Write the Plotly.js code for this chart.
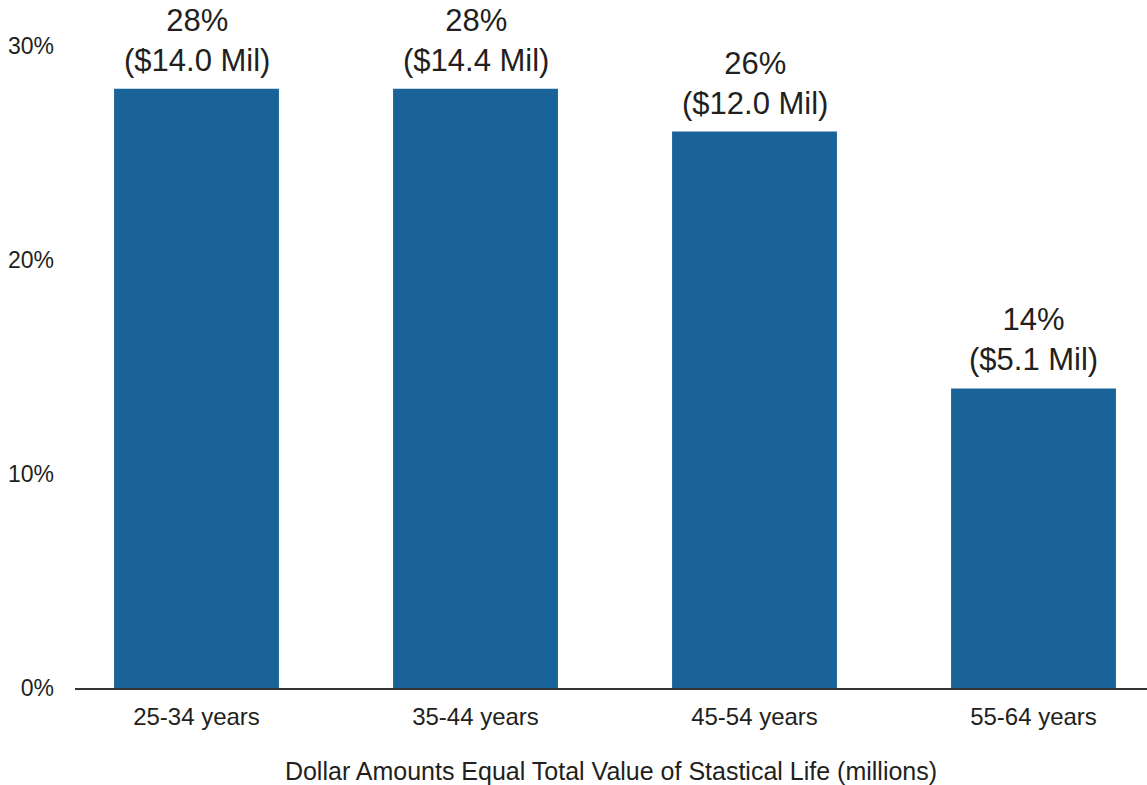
<!DOCTYPE html>
<html>
<head>
<meta charset="utf-8">
<script src="https://cdn.plot.ly/plotly-3.0.1.min.js"></script>
<style>html,body{margin:0;padding:0;background:#fff;}#chart{width:1147px;height:785px;}</style>
</head>
<body>
<div id="chart"></div>
<script>
const categories = ["25-34 years", "35-44 years", "45-54 years", "55-64 years"];
const percentValues = [28, 28, 26, 14];
const dollarMillions = [14.0, 14.4, 12.0, 5.1];
const yTickValues = [0, 10, 20, 30];

const FONT = "Liberation Sans, Arial, Helvetica, sans-serif";
const TEXT = "#231f20";

const trace = {
  type: "bar",
  x: categories,
  y: percentValues,
  marker: {color: "#1a6399"},
  hoverinfo: "none"
};

const annotations = categories.map((c, i) => ({
  x: c,
  y: percentValues[i],
  xref: "x",
  yref: "y",
  text: percentValues[i] + "%<br>($" + dollarMillions[i].toFixed(1) + " Mil)",
  showarrow: false,
  yanchor: "bottom",
  yshift: 9,
  font: {family: FONT, size: 31, color: TEXT}
}));

const layout = {
  width: 1147,
  height: 785,
  margin: {l: 75, r: 0, t: 46, b: 97},
  paper_bgcolor: "#ffffff",
  plot_bgcolor: "#ffffff",
  bargap: 0.409,
  showlegend: false,
  font: {family: FONT, color: TEXT},
  xaxis: {
    type: "category",
    range: [-0.4355, 3.4068],
    showline: true,
    linecolor: "#333333",
    linewidth: 2,
    ticks: "",
    showgrid: false,
    zeroline: false,
    tickfont: {family: FONT, size: 24, color: TEXT},
    ticklabelstandoff: 6,
    automargin: false,
    title: {text: "Dollar Amounts Equal Total Value of Stastical Life (millions)", font: {family: FONT, size: 25, color: TEXT}, standoff: 34}
  },
  yaxis: {
    range: [0, 30],
    tickvals: yTickValues,
    ticktext: yTickValues.map(v => v + "%"),
    showgrid: false,
    zeroline: false,
    showline: false,
    ticks: "",
    tickfont: {family: FONT, size: 23, color: TEXT},
    ticklabelstandoff: 20,
    automargin: false
  },
  annotations: annotations
};

Plotly.newPlot("chart", [trace], layout, {staticPlot: true, displayModeBar: false});
</script>
</body>
</html>
